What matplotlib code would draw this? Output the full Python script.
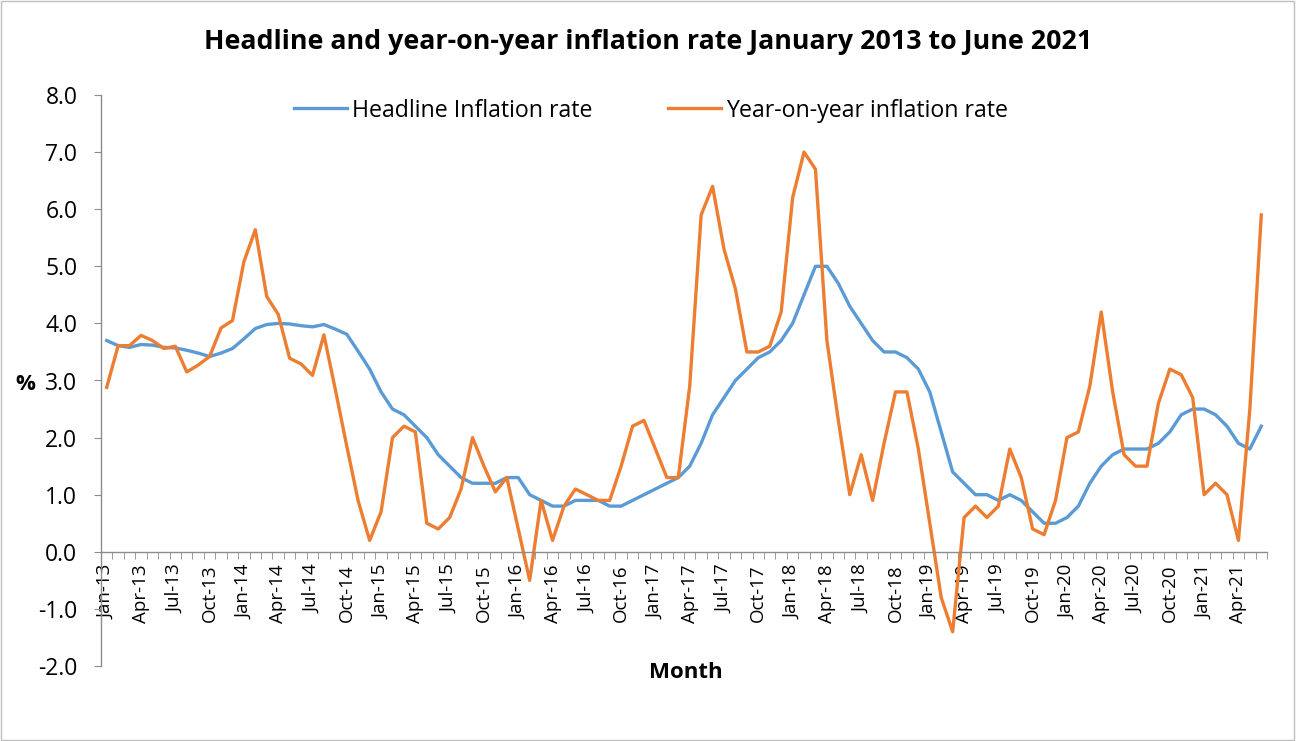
import matplotlib
matplotlib.use("Agg")
import matplotlib.pyplot as plt
from matplotlib.patches import Rectangle
import numpy as np

months = ["Jan", "Feb", "Mar", "Apr", "May", "Jun", "Jul", "Aug", "Sep", "Oct", "Nov", "Dec"]
categories = [f"{m}-{y:02d}" for y in range(13, 22) for m in months][:102]

headline = [3.70, 3.61, 3.58, 3.63, 3.62, 3.58, 3.57, 3.53, 3.48, 3.42, 3.48, 3.56,
            3.73, 3.91, 3.98, 4.0, 3.99, 3.96, 3.94, 3.98, 3.90, 3.81, 3.51, 3.20,
            2.8, 2.5, 2.4, 2.2, 2.0, 1.7, 1.5, 1.3, 1.2, 1.2, 1.2, 1.3,
            1.3, 1.0, 0.9, 0.8, 0.8, 0.9, 0.9, 0.9, 0.8, 0.8, 0.9, 1.0,
            1.1, 1.2, 1.3, 1.5, 1.9, 2.4, 2.7, 3.0, 3.2, 3.4, 3.5, 3.7,
            4.0, 4.5, 5.0, 5.0, 4.7, 4.3, 4.0, 3.7, 3.5, 3.5, 3.4, 3.2,
            2.8, 2.1, 1.4, 1.2, 1.0, 1.0, 0.9, 1.0, 0.9, 0.7, 0.5, 0.5,
            0.6, 0.8, 1.2, 1.5, 1.7, 1.8, 1.8, 1.8, 1.9, 2.1, 2.4, 2.5,
            2.5, 2.4, 2.2, 1.9, 1.8, 2.2]

yoy = [2.88, 3.61, 3.61, 3.79, 3.70, 3.56, 3.60, 3.15, 3.27, 3.42, 3.92, 4.05,
       5.08, 5.64, 4.47, 4.16, 3.39, 3.29, 3.09, 3.80, 2.84, 1.85, 0.89, 0.2,
       0.7, 2.0, 2.2, 2.1, 0.5, 0.4, 0.6, 1.1, 2.0, 1.5, 1.05, 1.3,
       0.4, -0.5, 0.9, 0.2, 0.8, 1.1, 1.0, 0.9, 0.9, 1.5, 2.2, 2.3,
       1.8, 1.3, 1.3, 2.9, 5.9, 6.4, 5.3, 4.6, 3.5, 3.5, 3.6, 4.2,
       6.2, 7.0, 6.7, 3.7, 2.3, 1.0, 1.7, 0.9, 1.9, 2.8, 2.8, 1.8,
       0.5, -0.8, -1.4, 0.6, 0.8, 0.6, 0.8, 1.8, 1.3, 0.4, 0.3, 0.9,
       2.0, 2.1, 2.9, 4.2, 2.8, 1.7, 1.5, 1.5, 2.6, 3.2, 3.1, 2.7,
       1.0, 1.2, 1.0, 0.2, 2.5, 5.9]

yticks = [-2.0, -1.0, 0.0, 1.0, 2.0, 3.0, 4.0, 5.0, 6.0, 7.0, 8.0]

plt.rcParams['font.family'] = ['Open Sans', 'DejaVu Sans']

fig = plt.figure(figsize=(12.96, 7.41), dpi=100)
fig.patches.append(Rectangle((0.0005, 0.001), 0.998, 0.997, transform=fig.transFigure,
                             fill=False, edgecolor="#BFBFBF", linewidth=1.0))
ax = fig.add_axes([101/1296, 1 - 666/741, (1267 - 101)/1296, (666 - 95)/741])

x = np.arange(len(categories))
ax.plot(x, headline, color="#5B9BD5", lw=2.4, label="Headline Inflation rate", solid_joinstyle="round")
ax.plot(x, yoy, color="#ED7D31", lw=2.4, label="Year-on-year inflation rate", solid_joinstyle="round")

ax.set_xlim(-0.5, len(categories) - 0.5)
ax.set_ylim(-2, 8)
ax.set_yticks(yticks)
ax.set_yticklabels([f"{v:.1f}" for v in yticks], fontsize=16.5)

ax.spines['top'].set_visible(False)
ax.spines['right'].set_visible(False)
ax.spines['bottom'].set_position(('data', 0))
for s in ('left', 'bottom'):
    ax.spines[s].set_color("#8C8C8C")
    ax.spines[s].set_linewidth(1.0)

ax.tick_params(axis='y', direction='out', length=5, color="#8C8C8C", pad=12)
lab_idx = list(range(0, len(categories), 3))
ax.set_xticks(lab_idx)
ax.set_xticklabels([categories[i] for i in lab_idx], rotation=90, fontsize=13.5,
                   va='top', ha='center')
ax.set_xticks(np.arange(-0.5, len(categories), 1), minor=True)
ax.tick_params(axis='x', which='major', length=0, pad=9)
ax.tick_params(axis='x', which='minor', direction='out', length=5, color="#8C8C8C")

ax.set_xlabel("Month", fontsize=16, fontweight='bold')
ax.xaxis.set_label_coords((686 - 101)/(1267 - 101), (666 - 662)/(666 - 95))
ax.set_ylabel("%", fontsize=16, fontweight='bold', rotation=0, va='center', ha='center')
ax.yaxis.set_label_coords((25 - 101)/(1267 - 101), (666 - 385)/(666 - 95))

fig.text(648/1296, 1 - 42/741, "Headline and year-on-year inflation rate January 2013 to June 2021",
         ha='center', va='center', fontsize=19.3, fontweight='bold')

leg = ax.legend(loc='upper center', bbox_to_anchor=((651 - 101)/1166, 1.01), ncol=2, frameon=False,
                fontsize=16.7, handlelength=2.28, columnspacing=3.28, handletextpad=0.22,
                borderaxespad=0.0)

fig.savefig("out.png", dpi=100)
